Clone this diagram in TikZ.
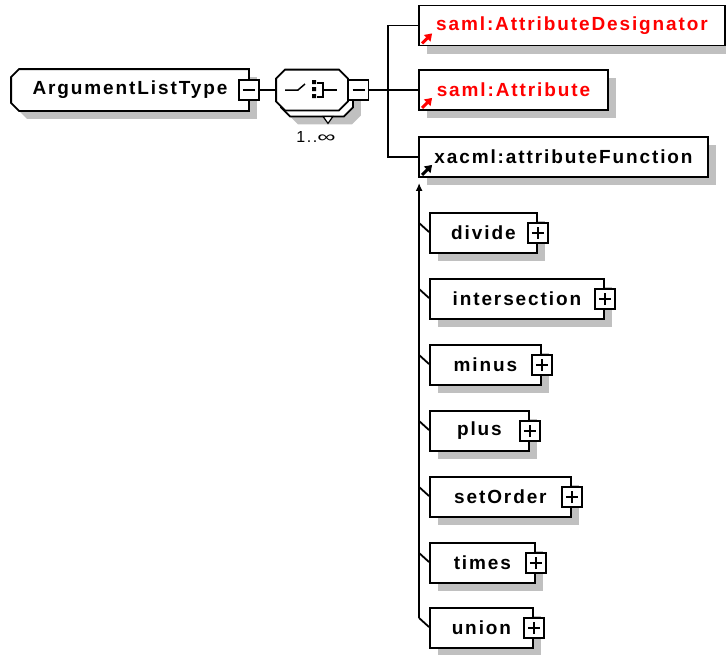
\documentclass[tikz,border=0pt]{standalone}
\usepackage{fontspec}
\usepackage{xcolor}
\usetikzlibrary{shadows,calc,arrows.meta,backgrounds}
\newfontfamily\schemafont[LetterSpace=10]{Liberation Sans}
\definecolor{shadowgrey}{RGB}{192,192,192}

\begin{document}
\begin{tikzpicture}[x=1pt,y=-1pt,line width=1.8pt]
    \tikzset{boxshadow/.style={drop shadow={shadow xshift=8pt,shadow yshift=-8pt,
                fill=shadowgrey,opacity=1}},
        elemfont/.style={font=\schemafont\bfseries\fontsize{19}{21}\selectfont},
        elem/.style={draw,fill=white,boxshadow,elemfont,minimum height=40,inner sep=2},
        refelem/.style={elem,text=red},
        typebox/.style={elemfont,minimum height=40,inner sep=2},
        seqbox/.style={minimum width=70,minimum height=39,inner sep=0},
        outline/.style={draw=black,fill=white,line width=1.8pt},
        minusbox/.style={draw,fill=white,minimum size=20,inner sep=0,line width=1.5pt,
            path picture={\draw ([xshift=-6pt]path picture bounding box.center)
                -- ([xshift=6pt]path picture bounding box.center);}},
        plusbox/.style={draw,fill=white,minimum size=20,inner sep=0,line width=1.5pt,
            path picture={\draw ([xshift=-6pt]path picture bounding box.center)
                -- ([xshift=6pt]path picture bounding box.center)
                ([yshift=-6pt]path picture bounding box.center)
                -- ([yshift=6pt]path picture bounding box.center);}},
        refmark/.style={line width=3pt,-{Triangle[length=7pt,width=9pt]}}}
    \useasboundingbox (0,0) rectangle (726,654);

    % complex type and its sequence
    \node[typebox,minimum width=236] (argtype) at (130,90) {ArgumentListType};
    \node[minusbox] (argminus) at (argtype.east) {};
    \node[seqbox] (seqback) at (317,96) {};
    \node[seqbox] (seq) at (312,90) {};
    \node[minusbox,anchor=west] (seqminus) at (seq.east) {};
    \begin{scope}[on background layer]
        \path[outline,boxshadow] ([yshift=-8pt]argtype.north west)
            -- ([xshift=8pt]argtype.north west) -- (argtype.north east)
            -- (argtype.south east) -- ([xshift=8pt]argtype.south west)
            -- ([yshift=8pt]argtype.south west) -- cycle;
        \foreach \s/\o in {seqback/boxshadow,seq/{}}
            \path[outline,\o] ([yshift=-9pt]\s.north west)
                -- ([xshift=9pt]\s.north west) -- ([xshift=-9pt]\s.north east)
                -- ([yshift=-9pt]\s.north east) -- ([yshift=9pt]\s.south east)
                -- ([xshift=-9pt]\s.south east) -- ([xshift=9pt]\s.south west)
                -- ([yshift=9pt]\s.south west) -- cycle;
    \end{scope}
    \draw[line width=1.2pt,fill=white] ([xshift=6pt]seqback.south) -- ++(10,0) -- ++(-5,7) -- cycle;
    \node[font=\schemafont\fontsize{16}{18}\selectfont] (card) at (316,137) {1..\scalebox{1.6}[1]{∞}};
    \begin{scope}[shift={(seq.center)},line width=1.5pt]
        \draw (-27,0) -- (-14,0) -- (-7,-6);
        \fill (0,-10) rectangle (4,-6) (0,-3) rectangle (4,1) (0,4) rectangle (4,8);
        \draw (5,-7) -- (11,-7) -- (11,7) -- (5,7) (11,0) -- (25,0);
    \end{scope}

    % sequence members
    \node[refelem,minimum width=306] (attrdes) at (572,25.5) {saml:AttributeDesignator};
    \node[refelem,minimum width=189] (attr) at (513.5,90) {saml:Attribute};
    \node[elem,minimum width=289] (attrfunc) at (563.5,157) {xacml:attributeFunction};
    \foreach \n/\c in {attrdes/red,attr/red,attrfunc/black}
        \draw[refmark,\c] ([shift={(4,-3)}]\n.south west) -- ++(10,-10);

    \coordinate (bus) at (388,90);
    \draw (argminus.east) -- (seq.west);
    \draw (seqminus.east) -- (bus);
    \draw (attrdes.west) -| (bus) -- (attr.west);
    \draw (attrfunc.west) -| (bus);

    % substitution group
    \coordinate (sg) at ([xshift=1pt,yshift=-5pt]attrfunc.south west);
    \foreach \name/\w/\y in {divide/107/233,intersection/174/299,minus/111/365,
            plus/99/431,setOrder/141/497,times/105/563,union/103/628} {
        \node[elem,minimum width=\w,anchor=west] (\name) at (429,\y) {\name};
        \node[plusbox] (\name-pm) at (\name.east) {};
        \draw ($(\name.west -| sg)+(0,-10)$) -- ([yshift=1pt]\name.west);
    }
    \draw[-{Latex[length=8pt,width=7pt]}] ($(union.west -| sg)+(0,-10)$) -- (sg);
\end{tikzpicture}
\end{document}
